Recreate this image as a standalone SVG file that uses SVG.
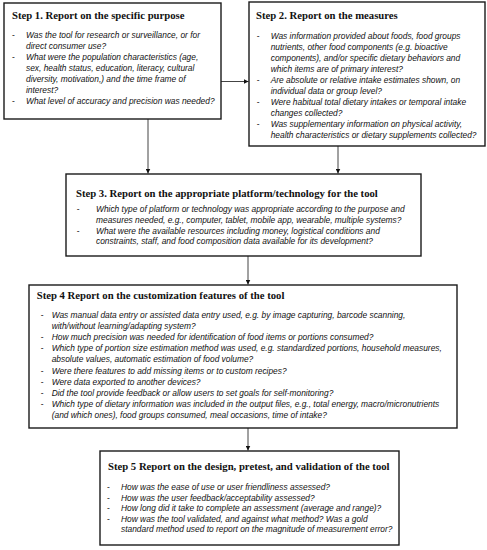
<svg xmlns="http://www.w3.org/2000/svg" width="487" height="550" viewBox="0 0 487 550">
<style>
.box{fill:#fff;stroke:#1a1a1a;stroke-width:1.4}
.t{font-family:"Liberation Serif","Times New Roman",serif;font-weight:bold;font-size:10.7px;fill:#111}
.b{font-family:"Liberation Sans",Arial,sans-serif;font-style:italic;font-size:8.4px;fill:#111}
.d{font-family:"Liberation Sans",Arial,sans-serif;font-size:8.4px;fill:#111}
.c{stroke:#444;stroke-width:1;fill:none}
</style>
<defs>
<marker id="ah" viewBox="0 0 10 10" refX="10" refY="5" markerWidth="5" markerHeight="5" orient="auto" markerUnits="userSpaceOnUse">
<path d="M0,0 L10,5 L0,10 z" fill="#111"/>
</marker>
</defs>
<rect width="487" height="550" fill="#fff"/>
<g id="connectors">
<line class="c" x1="221" y1="81.5" x2="248.5" y2="81.5" marker-end="url(#ah)"/>
<line class="c" x1="148" y1="119" x2="148" y2="173.5" marker-end="url(#ah)"/>
<line class="c" x1="338" y1="146" x2="338" y2="173.5" marker-end="url(#ah)"/>
<line class="c" x1="248" y1="256" x2="248" y2="284.5" marker-end="url(#ah)"/>
<line class="c" x1="248" y1="428" x2="248" y2="450.5" marker-end="url(#ah)"/>
</g>
<g id="step1">
<rect class="box" x="4" y="3" width="217" height="116"/>
<text class="t" x="12" y="18.5">Step 1. Report on the specific purpose</text>
<text class="d" x="12" y="37.5">-</text>
<text class="d" x="12" y="59.6">-</text>
<text class="d" x="12" y="103.8">-</text>
<text class="b" x="26" y="37.5">Was the tool for research or surveillance, or for</text>
<text class="b" x="26" y="48.6">direct consumer use?</text>
<text class="b" x="26" y="59.6">What were the population characteristics (age,</text>
<text class="b" x="26" y="70.7">sex, health status, education, literacy, cultural</text>
<text class="b" x="26" y="81.7">diversity, motivation,) and the time frame of</text>
<text class="b" x="26" y="92.8">interest?</text>
<text class="b" x="26" y="103.8">What level of accuracy and precision was needed?</text>
</g>
<g id="step2">
<rect class="box" x="249" y="2" width="236" height="144"/>
<text class="t" x="256" y="18.5">Step 2. Report on the measures</text>
<text class="d" x="256.7" y="38.8">-</text>
<text class="d" x="256.7" y="82.8">-</text>
<text class="d" x="256.7" y="104.8">-</text>
<text class="d" x="256.7" y="126.8">-</text>
<text class="b" x="270.7" y="38.8">Was information provided about foods, food groups</text>
<text class="b" x="270.7" y="49.8">nutrients, other food components (e.g. bioactive</text>
<text class="b" x="270.7" y="60.8">components), and/or specific dietary behaviors and</text>
<text class="b" x="270.7" y="71.8">which items are of primary interest?</text>
<text class="b" x="270.7" y="82.8">Are absolute or relative intake estimates shown, on</text>
<text class="b" x="270.7" y="93.8">individual data or group level?</text>
<text class="b" x="270.7" y="104.8">Were habitual total dietary intakes or temporal intake</text>
<text class="b" x="270.7" y="115.8">changes collected?</text>
<text class="b" x="270.7" y="126.8">Was supplementary information on physical activity,</text>
<text class="b" x="270.7" y="137.8">health characteristics or dietary supplements collected?</text>
</g>
<g id="step3">
<rect class="box" x="66" y="174" width="355" height="82"/>
<text class="t" x="76" y="196.8">Step 3. Report on the appropriate platform/technology for the tool</text>
<text class="d" x="76.7" y="212">-</text>
<text class="d" x="76.7" y="233.6">-</text>
<text class="b" x="96" y="212">Which type of platform or technology was appropriate according to the purpose and</text>
<text class="b" x="96" y="222.8">measures needed, e.g., computer, tablet, mobile app, wearable, multiple systems?</text>
<text class="b" x="96" y="233.6">What were the available resources including money, logistical conditions and</text>
<text class="b" x="96" y="244.4">constraints, staff, and food composition data available for its development?</text>
</g>
<g id="step4">
<rect class="box" x="29" y="285" width="428" height="143"/>
<text class="t" x="36.7" y="298.5">Step 4 Report on the customization features of the tool</text>
<text class="d" x="40.7" y="318">-</text>
<text class="d" x="40.7" y="340.2">-</text>
<text class="d" x="40.7" y="351.3">-</text>
<text class="d" x="40.7" y="373.5">-</text>
<text class="d" x="40.7" y="384.6">-</text>
<text class="d" x="40.7" y="395.7">-</text>
<text class="d" x="40.7" y="406.8">-</text>
<text class="b" x="51.7" y="318">Was manual data entry or assisted data entry used, e.g. by image capturing, barcode scanning,</text>
<text class="b" x="51.7" y="329.1">with/without learning/adapting system?</text>
<text class="b" x="51.7" y="340.2">How much precision was needed for identification of food items or portions consumed?</text>
<text class="b" x="51.7" y="351.3">Which type of portion size estimation method was used, e.g. standardized portions, household measures,</text>
<text class="b" x="51.7" y="362.4">absolute values, automatic estimation of food volume?</text>
<text class="b" x="51.7" y="373.5">Were there features to add missing items or to custom recipes?</text>
<text class="b" x="51.7" y="384.6">Were data exported to another devices?</text>
<text class="b" x="51.7" y="395.7">Did the tool provide feedback or allow users to set goals for self-monitoring?</text>
<text class="b" x="51.7" y="406.8">Which type of dietary information was included in the output files, e.g., total energy, macro/micronutrients</text>
<text class="b" x="51.7" y="417.9">(and which ones), food groups consumed, meal occasions, time of intake?</text>
</g>
<g id="step5">
<rect class="box" x="100" y="451" width="299" height="94"/>
<text class="t" x="108" y="470">Step 5 Report on the design, pretest, and validation of the tool</text>
<text class="d" x="107" y="490">-</text>
<text class="d" x="107" y="500.5">-</text>
<text class="d" x="107" y="511">-</text>
<text class="d" x="107" y="521.5">-</text>
<text class="b" x="121" y="490">How was the ease of use or user friendliness assessed?</text>
<text class="b" x="121" y="500.5">How was the user feedback/acceptability assessed?</text>
<text class="b" x="121" y="511">How long did it take to complete an assessment (average and range)?</text>
<text class="b" x="121" y="521.5">How was the tool validated, and against what method? Was a gold</text>
<text class="b" x="121" y="532">standard method used to report on the magnitude of measurement error?</text>
</g>
</svg>
